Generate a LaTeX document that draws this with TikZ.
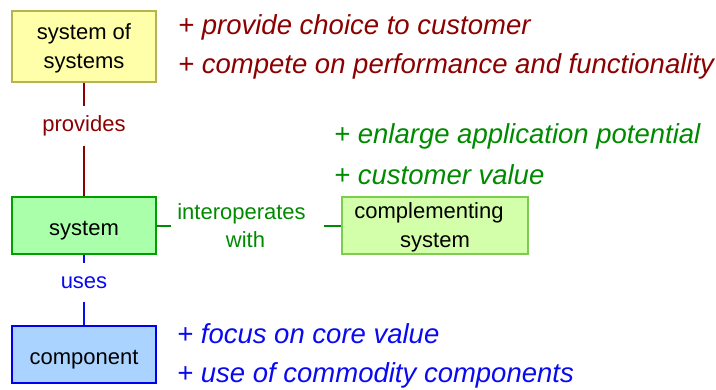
\documentclass[tikz,border=0pt]{standalone}
\usepackage{fontspec}
\setmainfont{Liberation Sans}
\definecolor{dred}{HTML}{8B0000}
\definecolor{dgreen}{HTML}{008A00}
\definecolor{dblue}{HTML}{0A0AF0}
\definecolor{yfill}{HTML}{FFFFAA}
\definecolor{ydraw}{HTML}{B4B450}
\definecolor{gfill}{HTML}{AAFFAA}
\definecolor{gdraw}{HTML}{00A000}
\definecolor{cfill}{HTML}{D4FFAA}
\definecolor{cdraw}{HTML}{7CCC50}
\definecolor{bfill}{HTML}{AAD4FF}
\definecolor{bdraw}{HTML}{0000F0}
\newcommand{\padR}[1]{\rule{#1}{0pt}}
\tikzset{
  box/.style={rectangle, inner sep=0pt, line width=1.2pt, align=center,
    font=\fontsize{22}{29}\selectfont, text=black},
  onebox/.style={box, execute at begin node={\rule{0pt}{24pt}}},
  twobox/.style={box, text height=49pt, text depth=4.6pt},
  lbl/.style={inner sep=0pt, align=center, font=\fontsize{22}{28}\selectfont},
  note/.style={inner sep=0pt, anchor=base west, font=\fontsize{27.5}{39}\selectfont\itshape},
  conn/.style={line width=2pt}
}
\begin{document}
\begin{tikzpicture}[x=1pt,y=-1pt]
\useasboundingbox (0,0) rectangle (716,389);
\node[twobox, fill=yfill, draw=ydraw, minimum width=144, minimum height=71] (sos) at (84,46.5) {system of\\systems};
\node[onebox, fill=gfill, draw=gdraw, minimum width=144, minimum height=57] (sys) at (84,225.5) {system};
\node[twobox, fill=cfill, draw=cdraw, minimum width=186, minimum height=57] (comp) at (435,225.5) {complementing\padR{12pt}\\system};
\node[onebox, fill=bfill, draw=bdraw, minimum width=144, minimum height=57] (cpt) at (84,354.5) {component};
\node[lbl, text=dred, minimum height=39] (prov) at (84,126) {provides};
\node[lbl, text=dblue, minimum height=39] (uses) at (84,282.5) {uses};
\node[lbl, text=dgreen, text width=153, minimum height=57] (inter) at (247.5,225.5) {interoperates\padR{12pt}\\with\padR{4pt}};
\draw[conn, dred] (sos) -- (prov);
\draw[conn, dred] (prov) -- (sys);
\draw[conn, dblue] (sys) -- (uses);
\draw[conn, dblue] (uses) -- (cpt);
\draw[conn, dgreen] (sys.east |- inter.west) -- (inter.west);
\draw[conn, dgreen] (inter.east) -- (comp.west |- inter.east);
\node[note, text=dred] (r1) at (178,34) {+ provide choice to customer};
\node[note, text=dred] (r2) at (178,73) {+ compete on performance and functionality};
\node[note, text=dgreen] (g1) at (334,143) {+ enlarge application potential};
\node[note, text=dgreen] (g2) at (334,184) {+ customer value};
\node[note, text=dblue] (b1) at (177,343) {+ focus on core value};
\node[note, text=dblue] (b2) at (177,382) {+ use of commodity components};
\end{tikzpicture}
\end{document}
